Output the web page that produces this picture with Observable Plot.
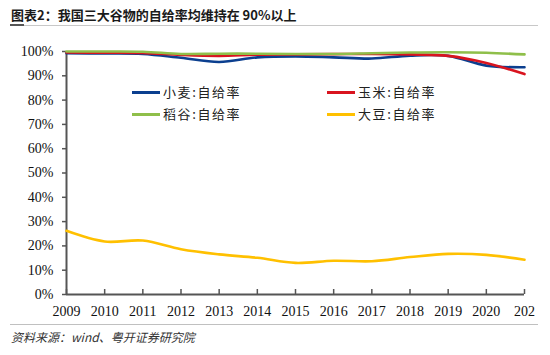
<!DOCTYPE html>
<html><head><meta charset="utf-8">
<script src="https://cdn.jsdelivr.net/npm/d3@7"></script>
<script src="https://cdn.jsdelivr.net/npm/@observablehq/plot@0.6"></script>
<style>
body{margin:0;background:#fff;width:550px;height:355px;position:relative;overflow:hidden;font-family:"Noto Sans CJK SC",sans-serif;}
#title{position:absolute;left:11px;top:7px;font-size:13px;line-height:16px;font-weight:bold;color:#1a1a1a;white-space:nowrap;}
#tline{position:absolute;left:10px;top:25px;width:528px;height:0;border-top:1.5px solid #c8c8c8;}
#tbar{position:absolute;left:10px;top:24px;width:14px;height:2px;background:#555;}
#chart{position:absolute;left:0;top:30px;width:550px;height:290px;}
#chart svg{max-width:none !important;width:550px !important;height:290px !important;}
#chart svg text{font-family:"Liberation Serif","Times New Roman",serif !important;font-size:14px;}
#cline{position:absolute;left:10px;top:324px;width:528px;height:0;border-top:1.5px solid #c0c0c0;}
#caption{position:absolute;left:11px;top:329px;font-size:12px;line-height:16px;font-style:italic;color:#333;white-space:nowrap;}
.sw{position:absolute;width:28px;height:3px;}
.lt{position:absolute;font-size:13px;line-height:16px;letter-spacing:1.6px;color:#222;white-space:nowrap;}
</style>
</head><body>
<div id="title">图表2：我国三大谷物的自给率均维持在 90%以上</div>
<div id="tline"></div><div id="tbar"></div>
<div id="chart"></div>
<div id="legend"></div>
<div id="cline"></div>
<div id="caption">资料来源：wind、粤开证券研究院</div>
<script>
const years = [2009,2010,2011,2012,2013,2014,2015,2016,2017,2018,2019,2020,2021];
const yearLabels = ["2009","2010","2011","2012","2013","2014","2015","2016","2017","2018","2019","2020","202"];
const seriesNames = ["小麦:自给率","玉米:自给率","稻谷:自给率","大豆:自给率"];
const seriesColors = ["#0b3f8f","#d9141f","#8fbf4a","#ffc000"];
const wheat = [99.3,99.2,99.0,97.4,95.7,97.6,98.0,97.6,97.1,98.3,98.2,94.2,93.5];
const corn  = [99.6,99.5,99.4,98.6,98.2,98.7,98.8,98.9,99.0,98.8,98.2,95.3,90.7];
const rice  = [100.0,100.0,99.9,99.0,99.1,99.1,99.0,99.0,99.3,99.6,99.7,99.5,98.8];
const soy   = [26.2,21.8,22.2,18.6,16.5,15.1,13.0,13.9,13.7,15.4,16.7,16.3,14.3];
const yTicks = [0,10,20,30,40,50,60,70,80,90,100];

const allSeries = [wheat, corn, rice, soy];
const data = [];
allSeries.forEach((vals, i) => vals.forEach((v, j) => data.push({year: years[j], value: v, series: seriesNames[i]})));

const serif = '"Liberation Serif","Times New Roman",serif';
const chart = Plot.plot({
  width: 550, height: 290,
  marginTop: 21, marginBottom: 26, marginLeft: 66, marginRight: 26,
  x: {domain: [2009, 2021]},
  y: {domain: [0, 100]},
  color: {domain: seriesNames, range: seriesColors},
  style: {fontFamily: serif, fontSize: "14px", color: "#111", background: "#fff"},
  marks: [
    Plot.axisY({ticks: yTicks, tickFormat: d => d + "%", tickSize: 4, tickPadding: 9, stroke: "#555", strokeWidth: 1.5, label: null, fill: "#111", fontFamily: serif, fontSize: 14}),
    Plot.axisX({ticks: years, tickFormat: d => yearLabels[years.indexOf(d)], tickSize: -5, tickPadding: 17, stroke: "#555", strokeWidth: 1.5, label: null, fill: "#111", fontFamily: serif, fontSize: 14}),
    Plot.ruleX([2009], {stroke: "#555", strokeWidth: 2}),
    Plot.ruleY([0], {stroke: "#555", strokeWidth: 2}),
    Plot.line(data, {x: "year", y: "value", z: "series", stroke: "series", curve: "catmull-rom", strokeWidth: 2.6})
  ]
});
document.getElementById("chart").appendChild(chart);

const legendPos = [[132,92],[327,92],[132,114],[327,114]];
const leg = document.getElementById("legend");
seriesNames.forEach((name, i) => {
  const [x, y] = legendPos[i];
  const s = document.createElement("div");
  s.className = "sw"; s.style.left = x + "px"; s.style.top = (y - 1.5) + "px"; s.style.background = seriesColors[i];
  const t = document.createElement("div");
  t.className = "lt"; t.style.left = (x + 31) + "px"; t.style.top = (y - 8) + "px"; t.textContent = name;
  leg.appendChild(s); leg.appendChild(t);
});
</script>
</body></html>
